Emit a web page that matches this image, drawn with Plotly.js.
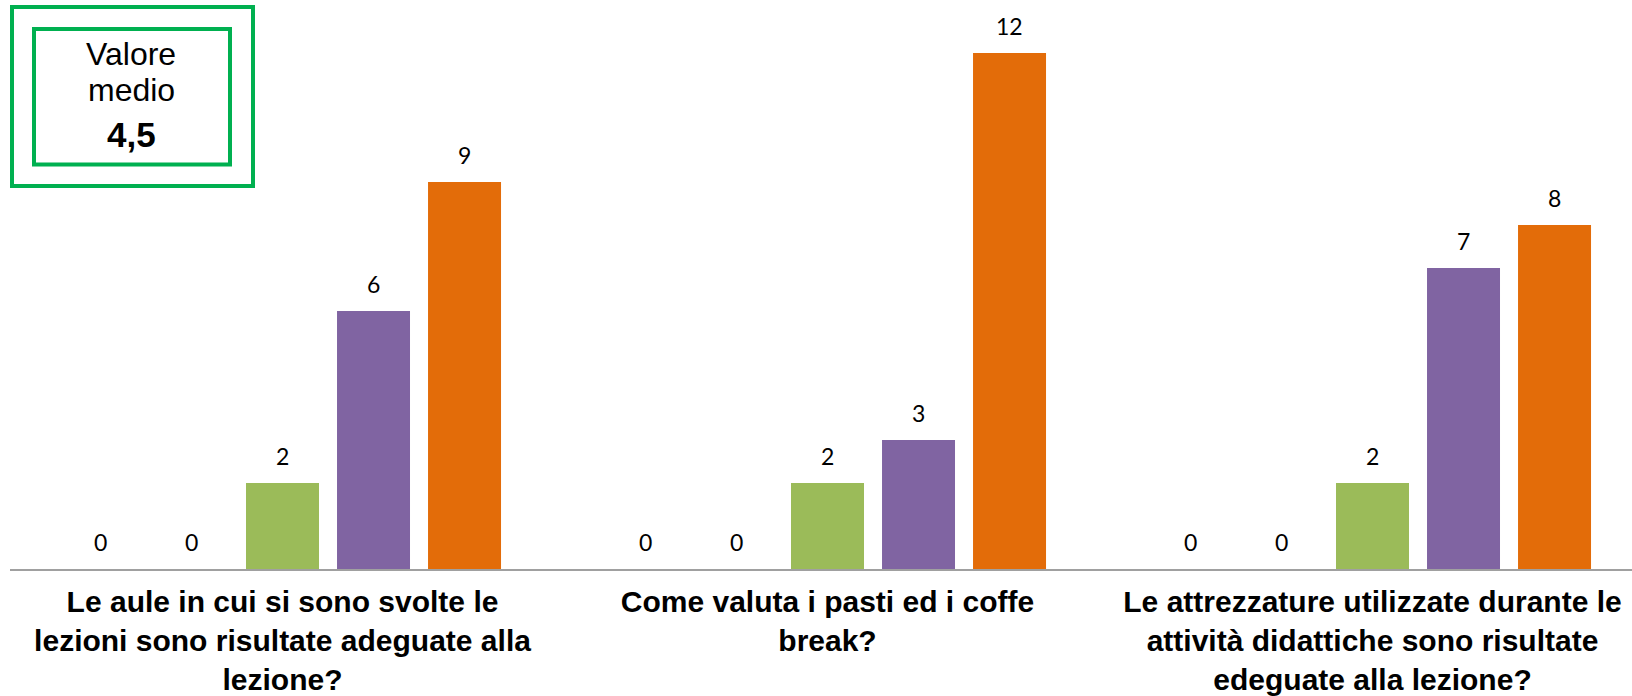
<!DOCTYPE html>
<html>
<head>
<meta charset="utf-8">
<script src="https://cdn.plot.ly/plotly-3.0.1.min.js"></script>
<style>html,body{margin:0;padding:0;background:#fff;}#chart{width:1632px;height:696px;}</style>
</head>
<body>
<div id="chart"></div>
<script>
// ---- data ----
const categories = [
  "Le aule in cui si sono svolte le<br>lezioni sono risultate adeguate alla<br>lezione?",
  "Come valuta i pasti ed i coffe<br>break?",
  "Le attrezzature utilizzate durante le<br>attività didattiche sono risultate<br>edeguate alla lezione?"
];
const seriesNames = ["1", "2", "3", "4", "5"];
const series1 = [0, 0, 0];
const series2 = [0, 0, 0];
const series3 = [2, 2, 2];
const series4 = [6, 3, 7];
const series5 = [9, 12, 8];
const boxLabel = ["Valore", "medio"];
const boxValue = "4,5";

// ---- layout constants ----
const W = 1632, H = 696;
const M = {l: 10, r: 0, t: 0, b: 127};
const plotW = W - M.l - M.r, plotH = H - M.t - M.b;
const groupPx = 545;
const xMax = -0.5 + plotW / groupPx;
const yMax = plotH / 43;
const bargap = 0.165, bargroupgap = 0.198;
const colors = ["#4F81BD", "#C0504D", "#9BBB59", "#8064A2", "#E36C09"];
const allSeries = [series1, series2, series3, series4, series5];

const traces = allSeries.map((vals, i) => ({
  type: "bar",
  name: seriesNames[i],
  x: categories,
  y: vals,
  marker: {color: colors[i]},
  hoverinfo: "none"
}));

const slotPx = groupPx * (1 - bargap) / allSeries.length;
const annotations = [];
allSeries.forEach((vals, i) => {
  vals.forEach((v, j) => {
    annotations.push({
      x: categories[j], y: v, xref: "x", yref: "y",
      xshift: (i - (allSeries.length - 1) / 2) * slotPx,
      yshift: 11, yanchor: "bottom", showarrow: false,
      text: String(v),
      font: {family: "Lato, 'Open Sans', sans-serif", size: 23, color: "#000"}
    });
  });
});

const px = x => (x - M.l) / plotW;
const py = y => 1 - (y - M.t) / plotH;
const boxTexts = [
  {t: boxLabel[0], y: 54, size: 32, w: "normal"},
  {t: boxLabel[1], y: 90, size: 32, w: "normal"},
  {t: boxValue, y: 135, size: 35, w: "bold"}
];
boxTexts.forEach(b => annotations.push({
  xref: "paper", yref: "paper", x: px(131), y: py(b.y),
  xanchor: "center", yanchor: "middle", showarrow: false, text: b.t,
  font: {family: "'Liberation Sans', Arial, sans-serif", size: b.size, color: "#000", weight: b.w}
}));

const shapes = [
  {type: "rect", xref: "paper", yref: "paper", x0: px(12), x1: px(253), y0: py(7), y1: py(186),
   line: {color: "#00B050", width: 4}},
  {type: "rect", xref: "paper", yref: "paper", x0: px(34), x1: px(230), y0: py(29), y1: py(164.5),
   line: {color: "#00B050", width: 4}}
];

const layout = {
  width: W, height: H,
  margin: {l: M.l, r: M.r, t: M.t, b: M.b, pad: 0},
  paper_bgcolor: "#fff", plot_bgcolor: "#fff",
  showlegend: false,
  barmode: "group", bargap: bargap, bargroupgap: bargroupgap,
  xaxis: {
    type: "category", range: [-0.5, xMax], fixedrange: true,
    showline: true, linecolor: "#A0A0A0", linewidth: 2,
    ticks: "", showgrid: false, zeroline: false,
    tickfont: {family: "'Liberation Sans', Arial, sans-serif", size: 30, color: "#000", weight: "bold"},
    ticklabelstandoff: 5
  },
  yaxis: {range: [0, yMax], visible: false, fixedrange: true},
  annotations: annotations,
  shapes: shapes
};

Plotly.newPlot("chart", traces, layout, {displayModeBar: false, staticPlot: true});
</script>
</body>
</html>
